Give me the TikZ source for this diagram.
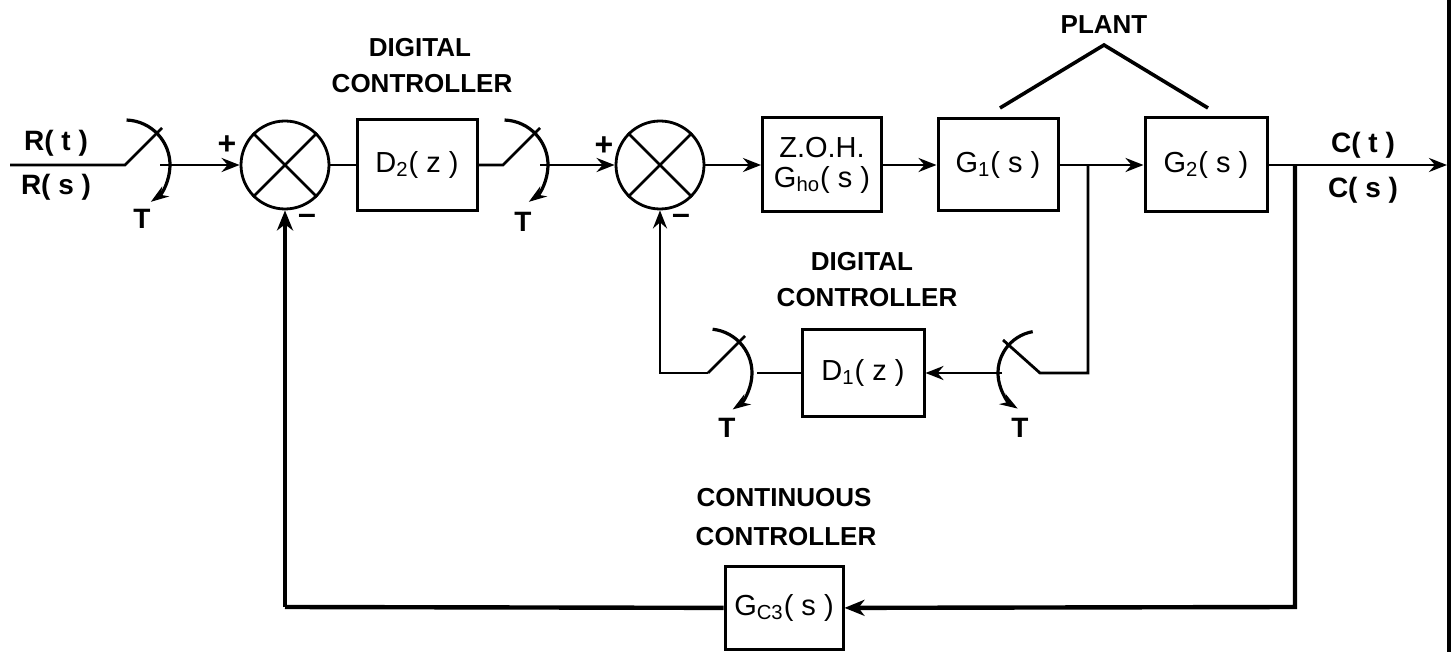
\documentclass[tikz,border=0pt]{standalone}
\usepackage{fontspec}
\setmainfont{Liberation Sans}
\usetikzlibrary{arrows.meta}
\tikzset{
  conn/.style={line width=1.4pt},
  fbline/.style={line width=2.2pt},
  arr/.style={conn,-{Stealth[length=9pt,width=7pt,inset=3pt]}},
  fbarr/.style={fbline,-{Stealth[length=10pt,width=8pt,inset=3pt]}},
  swarc/.style={line width=1.6pt,-{Stealth[length=9pt,width=6pt]}},
  blk/.style={draw,line width=1.5pt,inner sep=0pt,font=\fontsize{14.5}{16}\selectfont},
  sumj/.style={draw,circle,line width=1.4pt,minimum size=44pt,inner sep=0pt},
  captext/.style={font=\fontsize{13}{15}\selectfont\bfseries,inner sep=0pt},
  sig/.style={font=\fontsize{14}{16}\selectfont\bfseries,inner sep=0pt},
  sgn/.style={font=\fontsize{16}{18}\selectfont\bfseries,inner sep=0pt},
}
\begin{document}
\begin{tikzpicture}[x=0.5pt,y=-0.5pt]
\useasboundingbox (0,0) rectangle (1453,652);

% ---------- blocks ----------
\node[sumj] (s1) at (285,165) {};
\node[sumj] (s2) at (660,165) {};
\draw[conn] (s1.45) -- (s1.225) (s1.135) -- (s1.315);
\draw[conn] (s2.45) -- (s2.225) (s2.135) -- (s2.315);

\node[blk,minimum width=60pt,minimum height=45.5pt] (d2) at (417,165) {D\textsubscript{2}( z )};
\node[blk,minimum width=59.5pt,minimum height=47pt,align=center] (zoh) at (822,165) {Z.O.H.\\[-1pt]G\textsubscript{ho}( s )};
\node[blk,minimum width=60pt,minimum height=46pt] (g1) at (998,165) {G\textsubscript{1}( s )};
\node[blk,minimum width=61pt,minimum height=47pt] (g2) at (1206,165) {G\textsubscript{2}( s )};
\node[blk,minimum width=61pt,minimum height=43.5pt] (d1) at (863,373) {D\textsubscript{1}( z )};
\node[blk,minimum width=59pt,minimum height=41.5pt] (gc3) at (784,608) {G\textsubscript{C3}( s )};

% ---------- labels ----------
\node[sig] (rt) at (56,143) {R( t )};
\node[sig] (rs) at (56,187) {R( s )};
\node[sig] (ct) at (1363,145) {C( t )};
\node[sig] (cs) at (1363,190) {C( s )};
\node[sgn] (p1) at (227,145) {+};
\node[sgn] (m1) at (307,219) {–};
\node[sgn] (p2) at (604,146) {+};
\node[sgn] (m2) at (681,219) {–};
\node[captext] (dig1) at (420,48) {DIGITAL};
\node[captext] (con1) at (422,84) {CONTROLLER};
\node[captext] (dig2) at (862,262) {DIGITAL};
\node[captext] (con2) at (867,298) {CONTROLLER};
\node[captext] (cont3) at (784,498) {CONTINUOUS};
\node[captext] (con3) at (786,537) {CONTROLLER};
\node[captext] (plant) at (1104,25) {PLANT};
\node[sig] (t1) at (142,219) {T};
\node[sig] (t2) at (523,222) {T};
\node[sig] (t3) at (727,428) {T};
\node[sig] (t4) at (1020,428) {T};

% ---------- coordinates ----------
\coordinate (in) at (10,165);
\coordinate (pv1) at (125,165);
\coordinate (bl1) at (162,128);
\coordinate (ot1) at (160,165);
\coordinate (pv2) at (503,165);
\coordinate (bl2) at (540,128);
\coordinate (ot2) at (540,165);
\coordinate (br1) at (1088,165);
\coordinate (br1d) at (1088,373);
\coordinate (pv4) at (1040,373);
\coordinate (bl4) at (1003,340);
\coordinate (ot4) at (1002,373);
\coordinate (ot3) at (757,373);
\coordinate (pv3) at (708,373);
\coordinate (bl3) at (745,336);
\coordinate (k2) at (660,373);
\coordinate (br2) at (1295,165);
\coordinate (br2d) at (1295,607);
\coordinate (k1) at (285,607);
\coordinate (out) at (1447,165);
\coordinate (edgeT) at (1449,0);
\coordinate (edgeB) at (1449,652);
\coordinate (pl1) at (1000,108);
\coordinate (pla) at (1104,45);
\coordinate (pl2) at (1208,108);

% ---------- forward path ----------
\draw[conn] (in) -- (pv1) -- (bl1);
\draw[swarc] (pv1) ++(88:22.5pt) arc[start angle=88,end angle=-55,radius=22.5pt];
\draw[arr] (ot1) -- (s1);
\draw[conn] (s1) -- (d2);
\draw[conn] (d2) -- (pv2) -- (bl2);
\draw[swarc] (pv2) ++(88:22.5pt) arc[start angle=88,end angle=-55,radius=22.5pt];
\draw[arr] (ot2) -- (s2);
\draw[arr] (s2) -- (zoh);
\draw[arr] (zoh) -- (g1);
\draw[conn] (g1) -- (br1);
\draw[arr] (br1) -- (g2);
\draw[conn] (g2) -- (br2);
\draw[arr] (br2) -- (out);
\draw[line width=2.2pt] (edgeT) -- (edgeB);

% plant bracket
\draw[line width=1.8pt] (pl1) -- (pla) -- (pl2);

% ---------- inner loop ----------
\draw[conn] (br1) -- (br1d) -- (pv4) -- (bl4);
\draw[swarc] (pv4) ++(100:21pt) arc[start angle=100,end angle=238,radius=21pt];
\draw[arr] (ot4) -- (d1);
\draw[conn] (d1) -- (ot3);
\draw[conn] (bl3) -- (pv3);
\draw[swarc] (pv3) ++(84:22pt) arc[start angle=84,end angle=-56,radius=22pt];
\draw[arr] (pv3) -- (k2) -- (s2);

% ---------- outer loop ----------
\draw[fbarr] (br2) -- (br2d) -- (gc3);
\draw[fbline] (gc3) -- (k1);
\draw[fbarr] (k1) -- (s1);
\end{tikzpicture}
\end{document}
